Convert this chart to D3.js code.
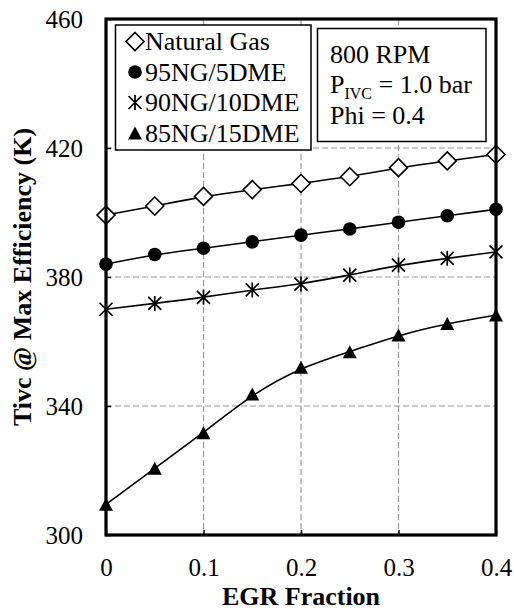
<!DOCTYPE html>
<html>
<head>
<meta charset="utf-8">
<script src="https://cdn.jsdelivr.net/npm/d3@7"></script>
<style>
  html, body { margin: 0; padding: 0; background: #fff; }
  svg { display: block; }
  text { font-family: "Liberation Serif", "Times New Roman", serif; fill: #000; }
</style>
</head>
<body>
<script>
// ---- data ----
const egr = [0, 0.05, 0.1, 0.15, 0.2, 0.25, 0.3, 0.35, 0.4];
const seriesNames = ["Natural Gas", "95NG/5DME", "90NG/10DME", "85NG/15DME"];
const naturalGas = [399.2, 402.0, 405.0, 407.1, 409.0, 411.1, 413.9, 416.0, 418.0];
const ng95dme5   = [384.0, 387.0, 388.9, 390.9, 393.0, 394.9, 397.0, 399.0, 401.0];
const ng90dme10  = [370.0, 371.8, 373.7, 376.0, 377.8, 380.6, 383.7, 385.8, 387.8];
const ng85dme15  = [309.5, 320.7, 331.7, 343.7, 352.0, 356.8, 362.0, 365.6, 368.2];
const xTicks = [0, 0.1, 0.2, 0.3, 0.4];
const yTicks = [300, 340, 380, 420, 460];
const xLabel = "EGR Fraction";
const yLabel = "Tivc @ Max Efficiency (K)";

const W = 514, H = 611;
const mL = 106, mR = 496, mT = 19, mB = 535;
const serif = '"Liberation Serif", "Times New Roman", serif';

const svg = d3.select("body").append("svg").attr("width", W).attr("height", H)
  .attr("font-family", serif);

const x = d3.scaleLinear().domain([0, 0.4]).range([mL, mR]);
const y = d3.scaleLinear().domain([300, 460]).range([mB, mT]);

// gridlines
const grid = svg.append("g");
grid.selectAll("line.h").data(yTicks.slice(1, -1)).join("line")
  .attr("x1", mL).attr("x2", mR)
  .attr("y1", d => y(d)).attr("y2", d => y(d))
  .attr("stroke", "#9a9a9a").attr("stroke-width", 1.2).attr("stroke-dasharray", "6,3");
grid.selectAll("line.v").data(xTicks.slice(1, -1)).join("line")
  .attr("y1", mT).attr("y2", mB)
  .attr("x1", d => x(d)).attr("x2", d => x(d))
  .attr("stroke", "#9a9a9a").attr("stroke-width", 1.2).attr("stroke-dasharray", "6,3");

// axes
const fontSize = 25;
const yAxis = svg.append("g").attr("transform", `translate(${mL},0)`)
  .call(d3.axisLeft(y).tickValues(yTicks).tickSize(-5).tickPadding(23).tickFormat(d3.format("d")));
const xAxis = svg.append("g").attr("transform", `translate(0,${mB})`)
  .call(d3.axisBottom(x).tickValues(xTicks).tickSize(-5).tickPadding(23).tickFormat(d => d === 0 ? "0" : d3.format(".1f")(d)));
[yAxis, xAxis].forEach(a => {
  a.attr("font-family", serif).attr("font-size", fontSize);
  a.select(".domain").remove();
  a.selectAll(".tick line").attr("stroke", "#000").attr("stroke-width", 1.5);
  a.selectAll("text").attr("font-size", fontSize).attr("font-family", serif).attr("fill", "#000");
});

// series
const data = [naturalGas, ng95dme5, ng90dme10, ng85dme15];
const line = d3.line().x(d => x(d[0])).y(d => y(d[1])).curve(d3.curveBasis);
const lines = svg.append("g");
data.forEach(vals => {
  lines.append("path")
    .attr("d", line(egr.map((e, i) => [e, vals[i]])))
    .attr("fill", "none").attr("stroke", "#000").attr("stroke-width", 1.6);
});

// marker drawing
function drawMarker(g, type, cx, cy) {
  if (type === 0) {
    const r = 9;
    g.append("path").attr("d", `M${cx},${cy - r}L${cx + r},${cy}L${cx},${cy + r}L${cx - r},${cy}Z`)
      .attr("fill", "#fff").attr("stroke", "#000").attr("stroke-width", 1.6);
  } else if (type === 1) {
    g.append("circle").attr("cx", cx).attr("cy", cy).attr("r", 6.8).attr("fill", "#000");
  } else if (type === 2) {
    const r = 6.5;
    const p = `M${cx - r},${cy - r}L${cx + r},${cy + r}M${cx - r},${cy + r}L${cx + r},${cy - r}M${cx},${cy - r - 1}L${cx},${cy + r + 1}`;
    g.append("path").attr("d", p).attr("stroke", "#000").attr("stroke-width", 1.7).attr("fill", "none");
  } else {
    const w = 7, h = 6.5;
    g.append("path").attr("d", `M${cx},${cy - h}L${cx + w},${cy + h}L${cx - w},${cy + h}Z`).attr("fill", "#000");
  }
}

const markers = svg.append("g");
data.forEach((vals, si) => {
  egr.forEach((e, i) => drawMarker(markers, si, x(e), y(vals[i])));
});

// frame
svg.append("rect").attr("x", mL).attr("y", mT).attr("width", mR - mL).attr("height", mB - mT)
  .attr("fill", "none").attr("stroke", "#000").attr("stroke-width", 3.2);

// legend
const lg = svg.append("g");
lg.append("rect").attr("x", 115.5).attr("y", 25).attr("width", 195.5).attr("height", 125)
  .attr("fill", "#fff").attr("stroke", "#000").attr("stroke-width", 1.5);
seriesNames.forEach((name, i) => {
  const cy = 41.5 + i * 30.5;
  drawMarker(lg, i, 135, cy);
  lg.append("text").attr("x", 145).attr("y", cy + 8.8).attr("font-size", 26).text(name);
});

// condition box
const cb = svg.append("g");
cb.append("rect").attr("x", 317.5).attr("y", 28.5).attr("width", 168.5).attr("height", 113)
  .attr("fill", "#fff").attr("stroke", "#000").attr("stroke-width", 1.5);
cb.append("text").attr("x", 330).attr("y", 63).attr("font-size", 26).text("800 RPM");
const t2 = cb.append("text").attr("x", 330).attr("y", 93).attr("font-size", 26);
t2.append("tspan").text("P");
t2.append("tspan").attr("font-size", 16).attr("dy", 6).text("IVC");
t2.append("tspan").attr("dy", -6).text(" = 1.0 bar");
cb.append("text").attr("x", 330).attr("y", 124).attr("font-size", 26).text("Phi = 0.4");

// axis titles
svg.append("text").attr("x", (mL + mR) / 2).attr("y", 605)
  .attr("text-anchor", "middle").attr("font-size", 26).attr("font-weight", "bold").text(xLabel);
svg.append("text").attr("transform", `translate(31,${(mT + mB) / 2}) rotate(-90)`)
  .attr("text-anchor", "middle").attr("font-size", 26).attr("font-weight", "bold").text(yLabel);
</script>
</body>
</html>
